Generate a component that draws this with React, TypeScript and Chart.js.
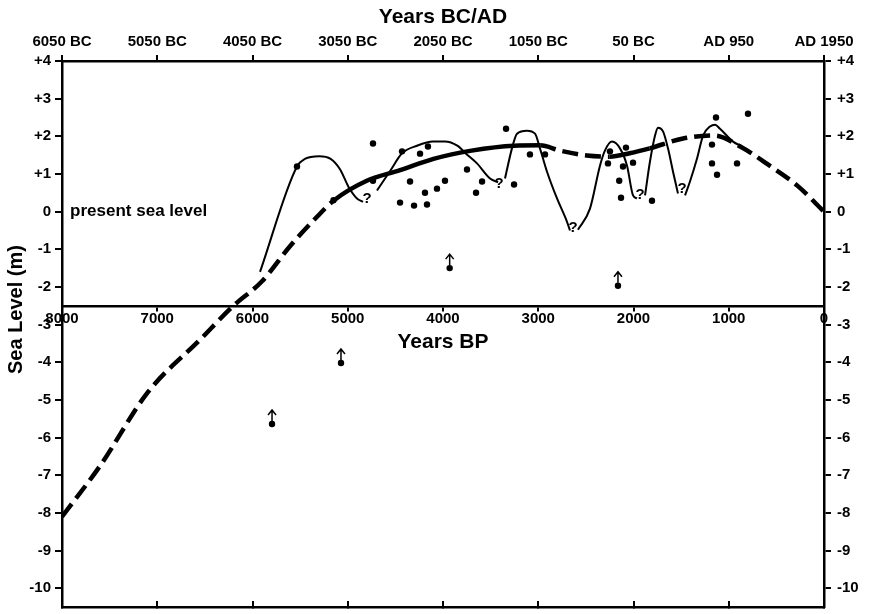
import React, { useEffect, useRef } from 'react';
import { Chart, registerables } from 'chart.js';

Chart.register(...registerables);

// ---- Axis ranges / labels ----
const BP_MIN = 0;
const BP_MAX = 8000;
const BP_STEP = 1000;
const SL_MIN = -10.5;
const SL_MAX = 4;
const MID_AXIS_SL = -2.5;
const TITLE_TOP = 'Years BC/AD';
const TITLE_MID = 'Years BP';
const TITLE_Y = 'Sea Level (m)';
const SEA_LEVEL_LABEL = 'present sea level';
const SEA_LEVEL_LABEL_BP = 7915;
const SEA_LEVEL_LABEL_SL = 0;

// ---- Thick trend line (dashed / solid) ----
const TREND_BP = [8000, 7600, 7100, 6550, 6200, 5900, 5600, 5320, 5150, 4800, 4450, 4100, 3700, 3250, 2980, 2770, 2490, 2250, 2040, 1830, 1480, 1150, 880, 570, 280, 0];
const TREND_SL = [-8.1, -6.75, -4.8, -3.4, -2.5, -1.85, -0.9, -0.13, 0.29, 0.82, 1.1, 1.4, 1.62, 1.75, 1.76, 1.62, 1.49, 1.46, 1.55, 1.68, 1.94, 2.02, 1.73, 1.22, 0.69, 0];
const TREND_SOLID_RANGES = [[2980, 5150], [1830, 2300]];

// ---- Thin oscillating curve (null = break) ----
const CURVE_BP = [
  5921, 5533, 5450, 5300, 5180, 5080, 4990, 4903, 4840, null,
  4693, 4550, 4430, 4273, 4105, 3980, 3850, 3750, 3643, 3506, 3422, null,
  3349, 3276, 3223, 3118, 3034, 2982, 2908, 2803, 2698, 2667, null,
  2583, 2457, 2352, 2300, 2226, 2142, 2068, 2005, 1963, null,
  1879, 1827, 1774, 1743, 1690, 1638, 1585, 1533, null,
  1459, 1407, 1333, 1270, 1197, 1144, 1092, 955, 860,
];
const CURVE_SL = [
  -1.6, 1.2, 1.4, 1.47, 1.4, 1.12, 0.65, 0.35, 0.26, null,
  0.56, 1.1, 1.55, 1.75, 1.86, 1.86, 1.75, 1.52, 1.28, 0.88, 0.78, null,
  0.88, 1.68, 2.07, 2.15, 2.07, 1.68, 1.06, 0.35, -0.27, -0.5, null,
  -0.48, 0.08, 1.22, 1.62, 1.86, 1.68, 1.22, 0.43, 0.35, null,
  0.43, 1.33, 2.02, 2.23, 2.13, 1.68, 1.06, 0.48, null,
  0.43, 0.8, 1.41, 2.02, 2.26, 2.31, 2.2, 1.86, 1.73,
];

// ---- Data points ----
const DOT_BP = [5533, 5150, 4735, 4735, 4430, 4241, 4158, 4346, 4451, 4304, 4189, 4168, 4063, 3979, 3748, 3653, 3590, 3338, 3254, 3087, 2929, 2268, 2247, 2079, 2005, 2110, 2150, 2131, 1806, 1176, 1176, 1134, 1123, 913, 798];
const DOT_SL = [1.2, 0.3, 1.81, 0.82, 1.6, 1.54, 1.73, 0.8, 0.24, 0.16, 0.5, 0.19, 0.61, 0.82, 1.12, 0.5, 0.8, 2.2, 0.72, 1.52, 1.52, 1.28, 1.6, 1.7, 1.3, 1.2, 0.82, 0.37, 0.29, 1.78, 1.28, 2.5, 0.98, 1.28, 2.6];

// ---- Points with upward arrows (minimum values) ----
const ARROW_BP = [5795, 5071, 3930, 2163];
const ARROW_SL = [-5.64, -4.02, -1.5, -1.97];

// ---- Question marks ----
const QMARK_BP = [4798, 3412, 2635, 1932, 1491];
const QMARK_SL = [0.35, 0.75, -0.42, 0.45, 0.6];

const FAMILY = '"Liberation Sans", Arial, Helvetica, sans-serif';
const tickFont = { family: FAMILY, size: 15, weight: 'bold' as const };
const titleFont = { family: FAMILY, size: 21, weight: 'bold' as const };

const bcad = (v: number) => {
  const yr = 1950 - v;
  return yr > 0 ? `AD ${yr}` : `${-yr} BC`;
};
const slLabel = (v: number) => (v > 0 ? `+${v}` : `${v}`);

const isSolid = (bp: number) => TREND_SOLID_RANGES.some(([a, b]) => bp >= a && bp <= b);

const overlayPlugin = {
  id: 'overlay',
  afterDatasetsDraw(chart: any) {
    const { ctx, scales } = chart;
    const xs = scales.x;
    const ys = scales.y;
    ctx.save();
    ctx.fillStyle = '#000';
    ctx.strokeStyle = '#000';
    // question marks
    ctx.font = `bold 15px ${FAMILY}`;
    ctx.textAlign = 'center';
    ctx.textBaseline = 'middle';
    QMARK_BP.forEach((bp, i) => {
      ctx.fillText('?', xs.getPixelForValue(bp), ys.getPixelForValue(QMARK_SL[i]));
    });
    // arrows
    ctx.lineWidth = 1.5;
    ARROW_BP.forEach((bp, i) => {
      const px = xs.getPixelForValue(bp);
      const py = ys.getPixelForValue(ARROW_SL[i]);
      const tip = py - 14;
      ctx.beginPath();
      ctx.moveTo(px, py - 3);
      ctx.lineTo(px, tip);
      ctx.moveTo(px - 4, tip + 5);
      ctx.lineTo(px, tip);
      ctx.lineTo(px + 4, tip + 5);
      ctx.stroke();
    });
    // present sea level
    ctx.font = `bold 17px ${FAMILY}`;
    ctx.textAlign = 'left';
    ctx.fillText(SEA_LEVEL_LABEL, xs.getPixelForValue(SEA_LEVEL_LABEL_BP), ys.getPixelForValue(SEA_LEVEL_LABEL_SL));
    // y-axis title
    ctx.font = `bold 20px ${FAMILY}`;
    ctx.textAlign = 'center';
    ctx.translate(16, ys.getPixelForValue(-2.6));
    ctx.rotate(-Math.PI / 2);
    ctx.fillText(TITLE_Y, 0, 0);
    ctx.restore();
  },
};

export default function App() {
  const ref = useRef<HTMLCanvasElement | null>(null);

  useEffect(() => {
    if (!ref.current) return;
    const trendData = TREND_BP.map((x, i) => ({ x, y: TREND_SL[i] }));
    let lastX = 0;
    const curveData = CURVE_BP.map((x, i) => {
      if (x === null) return { x: lastX, y: null };
      lastX = x;
      return { x, y: CURVE_SL[i] };
    });
    const dotData = DOT_BP.map((x, i) => ({ x, y: DOT_SL[i] }));
    const arrowData = ARROW_BP.map((x, i) => ({ x, y: ARROW_SL[i] }));

    const common = {
      type: 'linear' as const,
      min: BP_MIN,
      max: BP_MAX,
      reverse: true,
    };
    const noVPad = (s: any, w: number) => {
      s.width = w;
      s.paddingTop = 0;
      s.paddingBottom = 0;
    };

    const chart = new Chart(ref.current, {
      type: 'line',
      data: {
        datasets: [
          {
            type: 'scatter',
            data: dotData,
            pointRadius: 3.2,
            pointBackgroundColor: '#000',
            pointBorderWidth: 0,
            showLine: false,
          } as any,
          {
            type: 'scatter',
            data: arrowData,
            pointRadius: 3.2,
            pointBackgroundColor: '#000',
            pointBorderWidth: 0,
            showLine: false,
          } as any,
          {
            type: 'line',
            data: curveData,
            borderColor: '#000',
            borderWidth: 2,
            pointRadius: 0,
            spanGaps: false,
            cubicInterpolationMode: 'monotone',
            fill: false,
          } as any,
          {
            type: 'line',
            data: trendData,
            borderColor: '#000',
            borderWidth: 4.5,
            pointRadius: 0,
            cubicInterpolationMode: 'monotone',
            borderCapStyle: 'butt',
            fill: false,
            segment: {
              borderDash: (ctx: any) => {
                const mid = (ctx.p0.parsed.x + ctx.p1.parsed.x) / 2;
                return isSolid(mid) ? [] : [16, 7];
              },
            },
          } as any,
        ],
      },
      options: {
        responsive: false,
        animation: false,
        events: [],
        layout: { padding: 0 },
        plugins: { legend: { display: false }, tooltip: { enabled: false } },
        scales: {
          x: {
            ...common,
            position: { y: MID_AXIS_SL },
            ticks: {
              stepSize: BP_STEP,
              autoSkip: false,
              maxRotation: 0,
              color: '#000',
              font: tickFont,
              padding: 0,
              callback: (v: any) => String(v),
            },
            grid: { drawOnChartArea: false, drawTicks: true, tickLength: 4, color: '#000', lineWidth: 2 },
            border: { display: true, color: '#000', width: 2.5 },
            title: { display: true, text: TITLE_MID, color: '#000', font: titleFont, padding: { top: 0, bottom: 4 } },
            afterFit: (s: any) => { s.height = 53; },
          },
          xTop: {
            ...common,
            position: 'top',
            ticks: {
              stepSize: BP_STEP,
              autoSkip: false,
              maxRotation: 0,
              color: '#000',
              font: tickFont,
              padding: 4,
              callback: (v: any) => bcad(Number(v)),
            },
            grid: { drawOnChartArea: false, drawTicks: true, tickLength: 6, color: '#000', lineWidth: 2 },
            border: { display: true, color: '#000', width: 2.5 },
            title: { display: true, text: TITLE_TOP, color: '#000', font: titleFont, padding: { top: 5, bottom: 0 } },
            afterFit: (s: any) => { s.height = 61; },
          },
          xBot: {
            ...common,
            position: 'bottom',
            ticks: { stepSize: BP_STEP, display: false },
            grid: { drawOnChartArea: false, drawTicks: true, tickLength: -6, color: '#000', lineWidth: 2 },
            border: { display: true, color: '#000', width: 2.5 },
            afterFit: (s: any) => { s.height = 7; },
          },
          y: {
            type: 'linear',
            position: 'left',
            min: SL_MIN,
            max: SL_MAX,
            ticks: {
              stepSize: 1,
              includeBounds: false,
              autoSkip: false,
              color: '#000',
              font: tickFont,
              padding: 4,
              callback: (v: any) => slLabel(Number(v)),
            },
            grid: { drawOnChartArea: false, drawTicks: true, tickLength: 7, color: '#000', lineWidth: 2 },
            border: { display: true, color: '#000', width: 2.5 },
            afterFit: (s: any) => noVPad(s, 62),
          },
          y2: {
            type: 'linear',
            position: 'right',
            min: SL_MIN,
            max: SL_MAX,
            ticks: {
              stepSize: 1,
              includeBounds: false,
              autoSkip: false,
              color: '#000',
              font: tickFont,
              padding: 6,
              callback: (v: any) => slLabel(Number(v)),
            },
            grid: { drawOnChartArea: false, drawTicks: true, tickLength: 7, color: '#000', lineWidth: 2 },
            border: { display: true, color: '#000', width: 2.5 },
            afterFit: (s: any) => noVPad(s, 48),
          },
        },
      } as any,
      plugins: [overlayPlugin],
    });
    return () => chart.destroy();
  }, []);

  return (
    <div style={{ position: 'absolute', left: 0, top: 0, width: 872, height: 614, background: '#fff' }}>
      <canvas ref={ref} width={872} height={614} style={{ display: 'block', width: 872, height: 614 }} />
    </div>
  );
}
